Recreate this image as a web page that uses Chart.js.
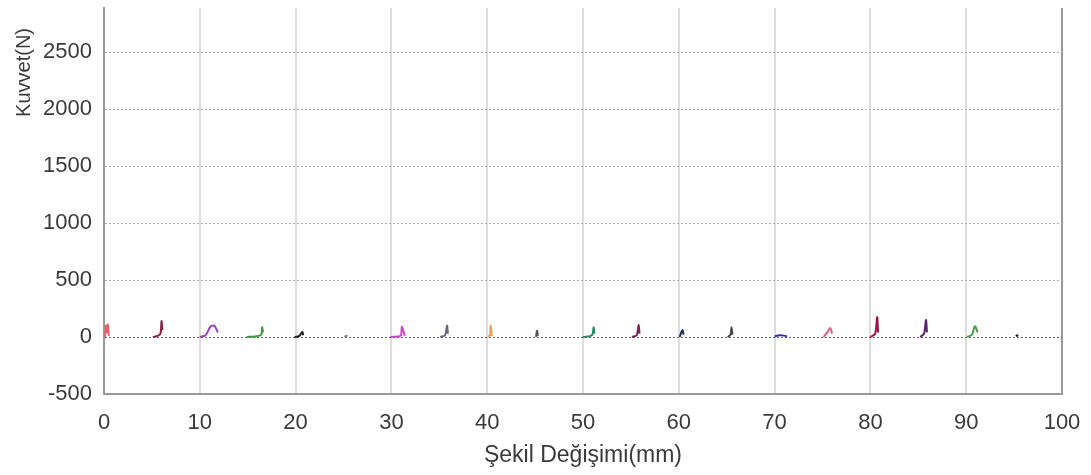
<!DOCTYPE html>
<html>
<head>
<meta charset="utf-8">
<script src="https://cdn.jsdelivr.net/npm/chart.js@4.4.1/dist/chart.umd.min.js"></script>
<style>
  html, body { margin: 0; padding: 0; background: #fff; }
  #wrap { width: 1091px; height: 475px; }
</style>
</head>
<body>
<div id="wrap"><canvas id="chart"></canvas></div>
<script>
// one short force curve per specimen, Şekil Değişimi (mm) vs Kuvvet (N)
const curveX = [
  [0.1, 0.2, 0.3, 0.4, 0.5],
  [5.1, 5.6, 5.9, 6.0, 6.1],
  [10.0, 10.6, 11.1, 11.5, 11.9],
  [14.9, 15.8, 16.4, 16.5, 16.6],
  [19.9, 20.4, 20.7, 20.8],
  [25.1, 25.3, 25.4],
  [29.9, 30.7, 31.0, 31.1, 31.4],
  [35.1, 35.6, 35.8, 35.9],
  [40.1, 40.3, 40.35, 40.5],
  [45.1, 45.2, 45.3],
  [50.0, 50.8, 51.0, 51.1, 51.2],
  [55.1, 55.6, 55.8, 55.9],
  [60.1, 60.3, 60.4, 60.5],
  [65.1, 65.4, 65.5, 65.6],
  [70.0, 70.5, 71.0, 71.3],
  [75.1, 75.5, 75.8, 76.0],
  [80.0, 80.5, 80.7, 80.8],
  [85.2, 85.6, 85.8, 85.9],
  [90.1, 90.6, 90.9, 91.2],
  [95.2, 95.3, 95.4]
]
const curveY = [
  [0, 100, 40, 110, 10],
  [0, 10, 30, 140, 60],
  [0, 15, 90, 100, 40],
  [0, 5, 20, 85, 40],
  [0, 10, 45, 15],
  [0, 12, 3],
  [0, 5, 15, 90, 10],
  [0, 15, 100, 30],
  [0, 20, 100, 5],
  [0, 55, 10],
  [0, 10, 25, 85, 30],
  [0, 15, 105, 30],
  [0, 50, 60, 20],
  [0, 20, 85, 20],
  [5, 15, 12, 5],
  [0, 40, 80, 30],
  [0, 30, 175, 40],
  [0, 30, 150, 40],
  [0, 20, 95, 40],
  [5, 15, 5]
]
const curveColors = [
  "#e8606a", "#8b2040", "#a040c0", "#3a9a3a", "#222222",
  "#888888", "#d040d0", "#666680", "#f0a050", "#555555",
  "#2a8a6a", "#802060", "#203050", "#444444", "#3030c0",
  "#e06080", "#a01040", "#602070", "#40a040", "#111111"
]
const yTicks = [-500, 0, 500, 1000, 1500, 2000, 2500]
const xTicks = [0, 10, 20, 30, 40, 50, 60, 70, 80, 90, 100]

const datasets = curveX.map((xs, i) => ({
  label: "Numune " + (i + 1),
  data: xs.map((x, j) => ({ x: x, y: curveY[i][j] })),
  borderColor: curveColors[i],
  borderWidth: 2,
  pointRadius: 0,
  tension: 0.3,
  fill: false
}))

const family = "'Liberation Sans', Arial, sans-serif"
const tickFont = { family, size: 22 }
const textColor = "#3a3a3a"

// y title sits near the top of the axis, not centred
const yTitle = {
  id: "yTitle",
  afterDraw(chart) {
    const ctx = chart.ctx
    ctx.save()
    ctx.translate(24, 28)
    ctx.rotate(-Math.PI / 2)
    ctx.font = "20px " + family
    ctx.fillStyle = textColor
    ctx.textAlign = "right"
    ctx.textBaseline = "middle"
    ctx.fillText("Kuvvet(N)", 0, 0)
    ctx.restore()
  }
}

new Chart(document.getElementById("chart"), {
  type: "line",
  data: { datasets },
  plugins: [yTitle],
  options: {
    responsive: true,
    maintainAspectRatio: false,
    animation: false,
    layout: { padding: { top: 8, right: 29, left: 0, bottom: 0 } },
    plugins: {
      legend: { display: false },
      tooltip: { enabled: false }
    },
    scales: {
      x: {
        type: "linear",
        min: 0,
        max: 100,
        afterBuildTicks: s => { s.ticks = xTicks.map(v => ({ value: v })) },
        afterFit: s => { s.height = 81; s.paddingLeft = 0; s.paddingRight = 0 },
        ticks: { color: textColor, font: tickFont, padding: 16, maxRotation: 0, callback: v => String(v) },
        grid: {
          color: ctx => ctx.tick && ctx.tick.value === 100 ? "#999" : "#dddddd",
          lineWidth: 2,
          drawTicks: false
        },
        border: { color: "#999", width: 2 },
        title: { display: true, text: "Şekil Değişimi(mm)", color: textColor, font: { family, size: 23 }, padding: { top: 0, bottom: 6 } }
      },
      y: {
        type: "linear",
        min: -500,
        max: 2886,
        afterBuildTicks: s => { s.ticks = yTicks.map(v => ({ value: v })) },
        afterFit: s => { s.width = 104; s.paddingTop = 0; s.paddingBottom = 0 },
        ticks: { color: textColor, font: tickFont, padding: 12, callback: v => String(v) },
        grid: {
          color: ctx => ctx.tick && ctx.tick.value === 0 ? "#666" : "#aaaaaa",
          lineWidth: 1,
          drawTicks: false
        },
        border: { color: "#999", width: 2, dash: [2, 2] },
        title: { display: false }
      }
    }
  }
})
</script>
</body>
</html>
